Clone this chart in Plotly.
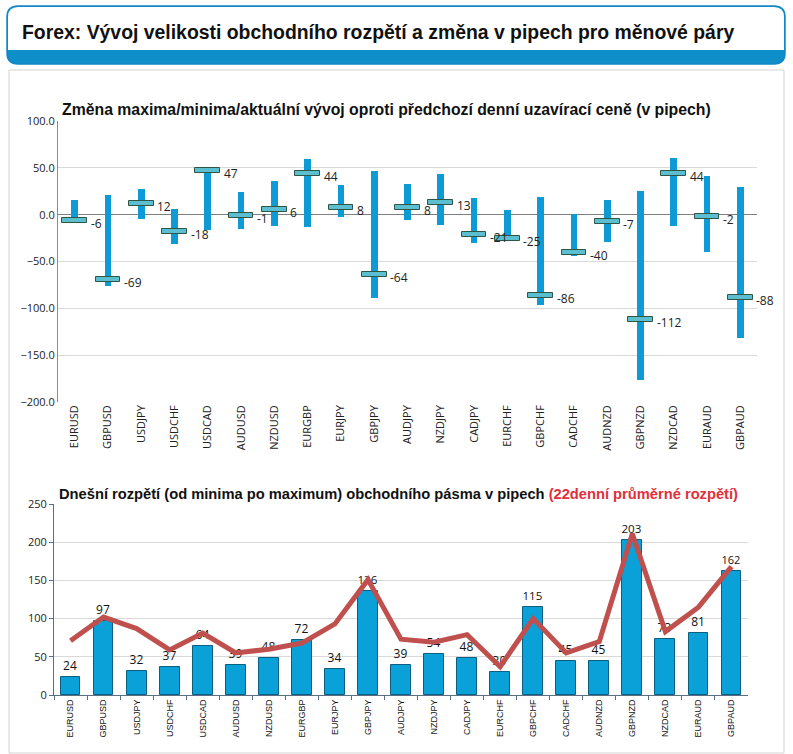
import plotly.graph_objects as go

W, H = 793, 754

pairs = ["EURUSD", "GBPUSD", "USDJPY", "USDCHF", "USDCAD", "AUDUSD", "NZDUSD",
         "EURGBP", "EURJPY", "GBPJPY", "AUDJPY", "NZDJPY", "CADJPY", "EURCHF",
         "GBPCHF", "CADCHF", "AUDNZD", "GBPNZD", "NZDCAD", "EURAUD", "GBPAUD"]

highs = [16, 21, 27, 6, 48, 24, 36, 59, 32, 47, 33, 43, 18, 5, 19, 1, 16, 25, 61, 41, 30]
lows = [-8, -76, -5, -31, -16, -15, -12, -13, -2, -89, -6, -11, -30, -25, -96, -44, -29, -177, -12, -40, -132]
closes = [-6, -69, 12, -18, 47, -1, 6, 44, 8, -64, 8, 13, -21, -25, -86, -40, -7, -112, 44, -2, -88]

ranges_today = [24, 97, 32, 37, 64, 39, 48, 72, 34, 136, 39, 54, 48, 30, 115, 45, 45, 203, 73, 81, 162]
avg22 = [71, 102, 87, 59, 81, 55, 60, 68, 93, 151, 73, 69, 79, 37, 100, 55, 70, 211, 83, 115, 168]

y1_ticks = [100, 50, 0, -50, -100, -150, -200]
y2_ticks = [0, 50, 100, 150, 200, 250]


def px(x):
    return x / W


def py(y):
    return 1 - y / H


fig = go.Figure()

# --- top chart: high-low bars and close markers ---
fig.add_trace(go.Bar(
    x=pairs, base=lows, y=[h - l for h, l in zip(highs, lows)],
    width=0.2, marker=dict(color="#0E9AD4", line=dict(width=0)),
    xaxis="x", yaxis="y", showlegend=False, hoverinfo="skip"))
fig.add_trace(go.Bar(
    x=pairs, base=[c - 2.7 for c in closes], y=[5.4] * len(closes),
    width=0.74, marker=dict(color="#5CBFD0", line=dict(color="#2F5547", width=1)),
    xaxis="x", yaxis="y", showlegend=False, hoverinfo="skip"))

annotations = []
for p, c in zip(pairs, closes):
    annotations.append(dict(x=p, y=c, xref="x", yref="y", text=str(c),
                            showarrow=False, xanchor="left", yanchor="middle",
                            xshift=14, yshift=-3,
                            font=dict(family="Open Sans", size=12, color="#222")))

# --- bottom chart: today's range bars + 22-day average line ---
fig.add_trace(go.Bar(
    x=pairs, y=ranges_today, width=0.6,
    marker=dict(color="#0AA0D8", line=dict(color="#0A5F80", width=1)),
    text=[str(v) for v in ranges_today], textposition="outside",
    textfont=dict(family="Open Sans", size=12, color="#111"),
    cliponaxis=False,
    xaxis="x2", yaxis="y2", showlegend=False, hoverinfo="skip"))
fig.add_trace(go.Scatter(
    x=pairs, y=avg22, mode="lines",
    line=dict(color="#C0504D", width=5),
    xaxis="x2", yaxis="y2", showlegend=False, hoverinfo="skip"))

# --- titles ---
annotations.append(dict(x=px(20), y=py(32), xref="paper", yref="paper",
                        text="<b>Forex: Vývoj velikosti obchodního rozpětí a změna v pipech pro měnové páry</b>",
                        showarrow=False, xanchor="left", yanchor="middle",
                        font=dict(family="Liberation Sans", size=19.4, color="#111")))
annotations.append(dict(x=px(60), y=py(110), xref="paper", yref="paper",
                        text="<b>Změna maxima/minima/aktuální vývoj oproti předchozí denní uzavírací ceně (v pipech)</b>",
                        showarrow=False, xanchor="left", yanchor="middle",
                        font=dict(family="Liberation Sans", size=15.8, color="#111")))
annotations.append(dict(x=px(57), y=py(494), xref="paper", yref="paper",
                        text="<b>Dnešní rozpětí (od minima po maximum) obchodního pásma v pipech "
                             "<span style='color:#E0303A'>(22denní průměrné rozpětí)</span></b>",
                        showarrow=False, xanchor="left", yanchor="middle",
                        font=dict(family="Liberation Sans", size=14.7, color="#111")))


def rounded_rect(x0, y0, x1, y1, r, top_only=False):
    X = lambda v: px(v)
    Y = lambda v: py(v)
    s = f"M {X(x0 + r)},{Y(y0)} L {X(x1 - r)},{Y(y0)} Q {X(x1)},{Y(y0)} {X(x1)},{Y(y0 + r)} "
    if top_only:
        s += f"L {X(x1)},{Y(y1)} L {X(x0)},{Y(y1)} "
    else:
        s += (f"L {X(x1)},{Y(y1 - r)} Q {X(x1)},{Y(y1)} {X(x1 - r)},{Y(y1)} "
              f"L {X(x0 + r)},{Y(y1)} Q {X(x0)},{Y(y1)} {X(x0)},{Y(y1 - r)} ")
    s += f"L {X(x0)},{Y(y0 + r)} Q {X(x0)},{Y(y0)} {X(x0 + r)},{Y(y0)} Z"
    return s


shapes = [
    # panel
    dict(type="rect", xref="paper", yref="paper", x0=px(9), x1=px(784), y0=py(753), y1=py(70),
         line=dict(color="#D3D3D3", width=1), fillcolor="white", layer="below"),
    # header
    dict(type="path", xref="paper", yref="paper", path=rounded_rect(7, 6, 785, 64, 11),
         fillcolor="#0E8FC9", line=dict(color="#1487C2", width=1.5), layer="below"),
    dict(type="path", xref="paper", yref="paper", path=rounded_rect(8, 7, 784, 50, 10, top_only=True),
         fillcolor="white", line=dict(width=0), layer="below"),
]

axis_font = dict(family="Open Sans", size=11, color="#222")

fig.update_layout(
    width=W, height=H, margin=dict(l=0, r=0, t=0, b=0, autoexpand=False),
    paper_bgcolor="white", plot_bgcolor="rgba(0,0,0,0)",
    barmode="overlay", bargap=0,
    annotations=annotations, shapes=shapes,
    xaxis=dict(domain=[px(58), px(757)], anchor="y", type="category", automargin=False,
               range=[-0.5, len(pairs) - 0.5],
               tickangle=-90, tickfont=dict(family="Open Sans", size=11, color="#222"),
               showgrid=False, showline=False, ticks="",
               fixedrange=True),
    yaxis=dict(domain=[py(402), py(121)], anchor="x", range=[-200, 100], automargin=False,
               tickvals=y1_ticks, tickformat=".1f", tickfont=axis_font,
               showgrid=True, gridcolor="#D9D9D9", gridwidth=1,
               zeroline=True, zerolinecolor="#7F7F7F", zerolinewidth=1,
               showline=True, linecolor="#8C8C8C", linewidth=1, ticks="", ticklen=0),
    xaxis2=dict(domain=[px(54), px(748)], anchor="y2", type="category", automargin=False,
                range=[-0.5, len(pairs) - 0.5],
                tickangle=-90, tickfont=dict(family="Liberation Sans", size=9, color="#111"),
                showgrid=False, showline=True, linecolor="#5A6E86", linewidth=1,
                ticks="outside", ticklen=4, tickcolor="#5A6E86", tickson="boundaries"),
    yaxis2=dict(domain=[py(695), py(504)], anchor="x2", range=[0, 250], automargin=False,
                tickvals=y2_ticks, tickfont=axis_font,
                showgrid=True, gridcolor="#D9D9D9", gridwidth=1, zeroline=False,
                showline=True, linecolor="#5A6E86", linewidth=1,
                ticks="outside", ticklen=4, tickcolor="#5A6E86"),
)

fig.write_html("out.html", config={"displayModeBar": False})

# remove default page margin so the 793x754 figure fills the window exactly
with open("out.html", "r", encoding="utf-8") as f:
    html = f.read()
html = html.replace("<head>", "<head><style>html,body{margin:0;padding:0;overflow:hidden;}</style>", 1)
with open("out.html", "w", encoding="utf-8") as f:
    f.write(html)
